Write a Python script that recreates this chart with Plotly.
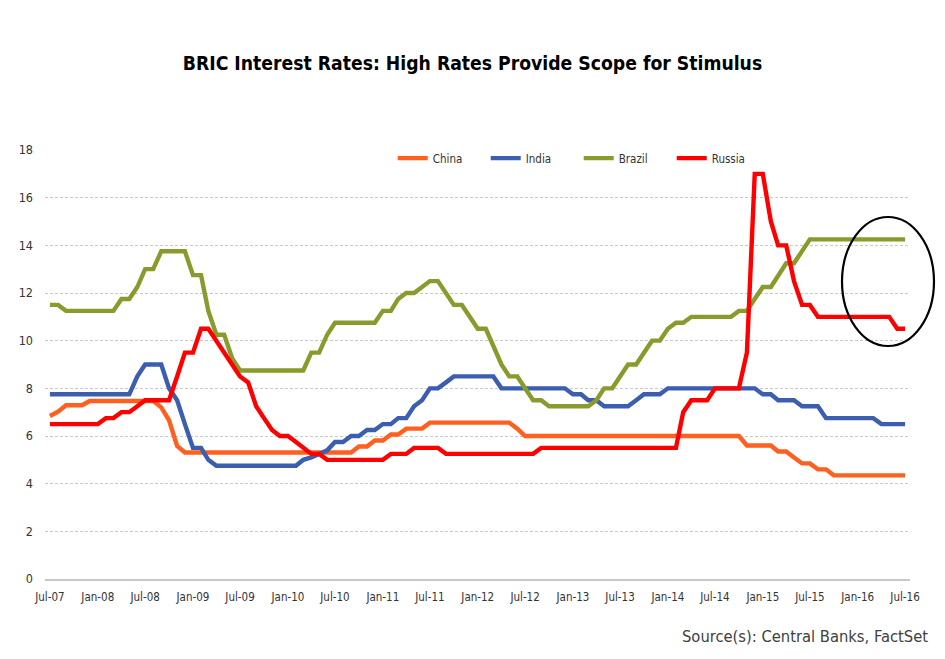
import pandas as pd
import plotly.graph_objects as go

# Monthly observations, Jul-07 .. Jul-16 (rows = Jul..Jun of each year)
dates = pd.date_range("2007-07-01", "2016-07-01", freq="MS")

china = [
    6.84, 7.02, 7.29, 7.29, 7.29, 7.47, 7.47, 7.47, 7.47, 7.47, 7.47, 7.47,
    7.47, 7.47, 7.20, 6.66, 5.58, 5.31, 5.31, 5.31, 5.31, 5.31, 5.31, 5.31,
    5.31, 5.31, 5.31, 5.31, 5.31, 5.31, 5.31, 5.31, 5.31, 5.31, 5.31, 5.31,
    5.31, 5.31, 5.31, 5.56, 5.56, 5.81, 5.81, 6.06, 6.06, 6.31, 6.31, 6.31,
    6.56, 6.56, 6.56, 6.56, 6.56, 6.56, 6.56, 6.56, 6.56, 6.56, 6.56, 6.31,
    6.00, 6.00, 6.00, 6.00, 6.00, 6.00, 6.00, 6.00, 6.00, 6.00, 6.00, 6.00,
    6.00, 6.00, 6.00, 6.00, 6.00, 6.00, 6.00, 6.00, 6.00, 6.00, 6.00, 6.00,
    6.00, 6.00, 6.00, 6.00, 5.60, 5.60, 5.60, 5.60, 5.35, 5.35, 5.10, 4.85,
    4.85, 4.60, 4.60, 4.35, 4.35, 4.35, 4.35, 4.35, 4.35, 4.35, 4.35, 4.35,
    4.35,
]

india = [
    7.75, 7.75, 7.75, 7.75, 7.75, 7.75, 7.75, 7.75, 7.75, 7.75, 7.75, 8.50,
    9.00, 9.00, 9.00, 8.00, 7.50, 6.50, 5.50, 5.50, 5.00, 4.75, 4.75, 4.75,
    4.75, 4.75, 4.75, 4.75, 4.75, 4.75, 4.75, 4.75, 5.00, 5.10, 5.25, 5.40,
    5.75, 5.75, 6.00, 6.00, 6.25, 6.25, 6.50, 6.50, 6.75, 6.75, 7.25, 7.50,
    8.00, 8.00, 8.25, 8.50, 8.50, 8.50, 8.50, 8.50, 8.50, 8.00, 8.00, 8.00,
    8.00, 8.00, 8.00, 8.00, 8.00, 8.00, 7.75, 7.75, 7.50, 7.50, 7.25, 7.25,
    7.25, 7.25, 7.50, 7.75, 7.75, 7.75, 8.00, 8.00, 8.00, 8.00, 8.00, 8.00,
    8.00, 8.00, 8.00, 8.00, 8.00, 8.00, 7.75, 7.75, 7.50, 7.50, 7.50, 7.25,
    7.25, 7.25, 6.75, 6.75, 6.75, 6.75, 6.75, 6.75, 6.75, 6.50, 6.50, 6.50,
    6.50,
]

brazil = [
    11.50, 11.50, 11.25, 11.25, 11.25, 11.25, 11.25, 11.25, 11.25, 11.75, 11.75, 12.25,
    13.00, 13.00, 13.75, 13.75, 13.75, 13.75, 12.75, 12.75, 11.25, 10.25, 10.25, 9.25,
    8.75, 8.75, 8.75, 8.75, 8.75, 8.75, 8.75, 8.75, 8.75, 9.50, 9.50, 10.25,
    10.75, 10.75, 10.75, 10.75, 10.75, 10.75, 11.25, 11.25, 11.75, 12.00, 12.00, 12.25,
    12.50, 12.50, 12.00, 11.50, 11.50, 11.00, 10.50, 10.50, 9.75, 9.00, 8.50, 8.50,
    8.00, 7.50, 7.50, 7.25, 7.25, 7.25, 7.25, 7.25, 7.25, 7.50, 8.00, 8.00,
    8.50, 9.00, 9.00, 9.50, 10.00, 10.00, 10.50, 10.75, 10.75, 11.00, 11.00, 11.00,
    11.00, 11.00, 11.00, 11.25, 11.25, 11.75, 12.25, 12.25, 12.75, 13.25, 13.25, 13.75,
    14.25, 14.25, 14.25, 14.25, 14.25, 14.25, 14.25, 14.25, 14.25, 14.25, 14.25, 14.25,
    14.25,
]

russia = [
    6.50, 6.50, 6.50, 6.50, 6.50, 6.50, 6.50, 6.75, 6.75, 7.00, 7.00, 7.25,
    7.50, 7.50, 7.50, 7.50, 8.50, 9.50, 9.50, 10.50, 10.50, 10.00, 9.50, 9.00,
    8.50, 8.25, 7.25, 6.75, 6.25, 6.00, 6.00, 5.75, 5.50, 5.25, 5.25, 5.00,
    5.00, 5.00, 5.00, 5.00, 5.00, 5.00, 5.00, 5.25, 5.25, 5.25, 5.50, 5.50,
    5.50, 5.50, 5.25, 5.25, 5.25, 5.25, 5.25, 5.25, 5.25, 5.25, 5.25, 5.25,
    5.25, 5.25, 5.50, 5.50, 5.50, 5.50, 5.50, 5.50, 5.50, 5.50, 5.50, 5.50,
    5.50, 5.50, 5.50, 5.50, 5.50, 5.50, 5.50, 5.50, 7.00, 7.50, 7.50, 7.50,
    8.00, 8.00, 8.00, 8.00, 9.50, 17.00, 17.00, 15.00, 14.00, 14.00, 12.50, 11.50,
    11.50, 11.00, 11.00, 11.00, 11.00, 11.00, 11.00, 11.00, 11.00, 11.00, 11.00, 10.50,
    10.50,
]

series_names = ["China", "India", "Brazil", "Russia"]
series_values = [china, india, brazil, russia]
series_colors = ["#FF5F1F", "#3B5EAF", "#8A9B2E", "#FF0000"]

y_ticks = [0, 2, 4, 6, 8, 10, 12, 14, 16, 18]

NARROW = "Liberation Sans Narrow, Arial Narrow, DejaVu Sans Condensed, sans-serif"

fig = go.Figure()
for name, vals, col in zip(series_names, series_values, series_colors):
    fig.add_trace(go.Scatter(
        x=dates, y=vals, name=name, mode="lines",
        line=dict(color=col, width=4.4),
    ))

fig.update_layout(
    width=945, height=659,
    margin=dict(l=45, r=35, t=150, b=80),
    paper_bgcolor="white", plot_bgcolor="white",
    title=dict(
        text="BRIC Interest Rates: High Rates Provide Scope for Stimulus",
        x=0.5, xanchor="center", xref="container",
        y=1 - 63 / 659, yanchor="middle", yref="container",
        font=dict(family=NARROW, size=19.2, color="#000000", weight="bold"),
    ),
    showlegend=True,
    legend=dict(
        orientation="h", x=0.402, xanchor="left", y=0.981, yanchor="middle",
        font=dict(family=NARROW, size=11.5, color="#333333"),
        bgcolor="rgba(0,0,0,0)", entrywidth=48, entrywidthmode="pixels",
        itemclick=False,
    ),
    xaxis=dict(
        type="date", automargin=False,
        range=["2007-06-12", "2016-07-20"],
        tick0="2007-07-01", dtick="M6", tickformat="%b-%y",
        showgrid=False, zeroline=False,
        showline=True, linecolor="#c8c8c8", linewidth=2,
        ticks="", ticklabelstandoff=6,
        tickfont=dict(family=NARROW, size=11.5, color="#333333"),
    ),
    yaxis=dict(
        range=[0, 18], tickvals=y_ticks, automargin=False,
        showgrid=True, gridcolor="#c8c8c8", gridwidth=1, griddash="3px,2px",
        zeroline=False, showline=False, ticks="", ticklabelstandoff=11,
        tickfont=dict(family=NARROW, size=12.5, color="#333333"),
    ),
    shapes=[dict(
        type="circle", xref="paper", yref="paper",
        x0=(842 - 45) / 865, x1=(934 - 45) / 865,
        y0=(579 - 346) / 429, y1=(579 - 217) / 429,
        line=dict(color="#000000", width=2.2),
    )],
    annotations=[dict(
        text="Source(s): Central Banks, FactSet",
        xref="paper", yref="paper", x=(930 - 45) / 865, y=(579 - 636) / 429,
        xanchor="right", yanchor="middle", showarrow=False,
        font=dict(family=NARROW, size=16.4, color="#404040"),
    )],
)

fig.write_html(
    "out.html",
    config={"displayModeBar": False},
    post_script="document.body.style.margin='0';",
)
